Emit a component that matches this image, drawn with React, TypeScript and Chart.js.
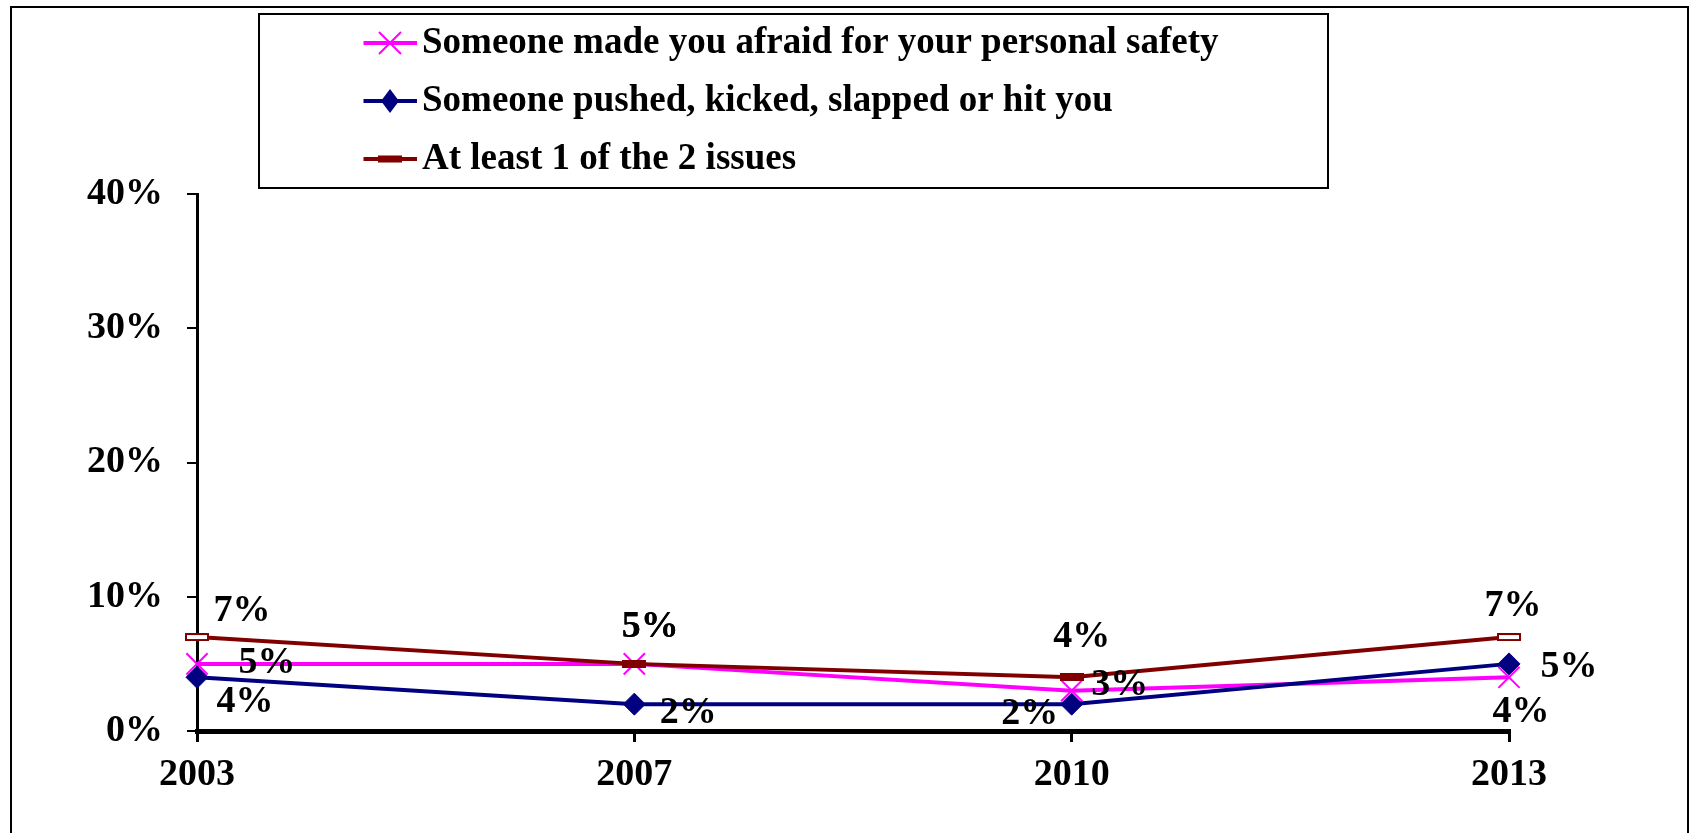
import React, { useEffect, useRef } from 'react';
import { Chart, registerables } from 'chart.js';

Chart.register(...registerables);

const years = ['2003', '2007', '2010', '2013'];
const afraidValues = [5, 5, 3, 4];
const pushedValues = [4, 2, 2, 5];
const atLeastOneValues = [7, 5, 4, 7];
const yTickValues = [0, 10, 20, 30, 40];
const seriesNames = [
  'Someone made you afraid for your personal safety',
  'Someone pushed, kicked, slapped or hit you',
  'At least 1 of the 2 issues',
];

const PINK = '#FF00FF';
const NAVY = '#000080';
const MAROON = '#800000';
const FONT = "'Liberation Serif', 'Times New Roman', serif";

// label placement (style): offsets relative to each point
const labelOffsets = [
  [[70, -1], [16, -37], [48, -6], [12, 35]],
  [[48, 25], [54, 9], [-42, 10], [60, 3]],
  [[45, -26], [16, -37], [10, -40], [4, -31]],
];

function makeCanvas(w: number, h: number) {
  const c = document.createElement('canvas');
  c.width = w;
  c.height = h;
  return c;
}

function legendIcon(kind: 'x' | 'diamond' | 'bar', color: string) {
  const W = 67, H = 28;
  const c = makeCanvas(W, H);
  const ctx = c.getContext('2d')!;
  const cy = H / 2;
  ctx.strokeStyle = color;
  ctx.lineWidth = 4;
  ctx.beginPath();
  ctx.moveTo(13.5, cy);
  ctx.lineTo(67, cy);
  ctx.stroke();
  const mx = 40;
  if (kind === 'x') {
    ctx.lineWidth = 2;
    ctx.beginPath();
    ctx.moveTo(mx - 11, cy - 11);
    ctx.lineTo(mx + 11, cy + 11);
    ctx.moveTo(mx + 11, cy - 11);
    ctx.lineTo(mx - 11, cy + 11);
    ctx.stroke();
  } else if (kind === 'diamond') {
    ctx.fillStyle = color;
    ctx.beginPath();
    ctx.moveTo(mx - 9, cy);
    ctx.lineTo(mx, cy - 12);
    ctx.lineTo(mx + 9, cy);
    ctx.lineTo(mx, cy + 12);
    ctx.closePath();
    ctx.fill();
  } else {
    ctx.fillStyle = color;
    ctx.fillRect(mx - 12, cy - 3.5, 24, 7);
  }
  return c;
}

function dashMarker(hollow: boolean) {
  const c = makeCanvas(24, 8);
  const ctx = c.getContext('2d')!;
  ctx.fillStyle = hollow ? '#fff' : MAROON;
  ctx.fillRect(1, 1, 22, 6);
  ctx.strokeStyle = MAROON;
  ctx.lineWidth = 2;
  ctx.strokeRect(1, 1, 22, 6);
  return c;
}

const framePlugin = {
  id: 'frameAndLegendBox',
  beforeDraw(chart: any) {
    const ctx = chart.ctx;
    ctx.save();
    ctx.strokeStyle = '#000';
    ctx.lineWidth = 2;
    ctx.strokeRect(11, 7, 1677, 900);
    ctx.restore();
    const lg = chart.legend;
    if (lg) {
      lg.left = 342.5;
      lg.top = 3.5;
      lg.right = 1320;
      lg.bottom = 200;
      lg.width = lg.right - lg.left;
      lg.height = lg.bottom - lg.top;
    }
  },
  afterDraw(chart: any) {
    const ctx = chart.ctx;
    ctx.save();
    ctx.strokeStyle = '#000';
    ctx.lineWidth = 2;
    ctx.strokeRect(259, 14, 1069, 174);
    ctx.restore();
  },
};

const pointLabelsPlugin = {
  id: 'pointLabels',
  afterDatasetsDraw(chart: any, _args: any, opts: any) {
    const ctx = chart.ctx;
    ctx.save();
    ctx.font = `bold 38px ${FONT}`;
    ctx.fillStyle = '#000';
    ctx.textAlign = 'center';
    ctx.textBaseline = 'middle';
    chart.data.datasets.forEach((ds: any, i: number) => {
      const meta = chart.getDatasetMeta(i);
      const offs = opts.offsets[i];
      meta.data.forEach((pt: any, j: number) => {
        const o = offs[j];
        ctx.fillText(`${ds.data[j]}%`, pt.x + o[0], pt.y + o[1]);
      });
    });
    ctx.restore();
  },
};

export default function App() {
  const ref = useRef<HTMLCanvasElement | null>(null);

  useEffect(() => {
    if (!ref.current) return;
    const icons = [legendIcon('x', PINK), legendIcon('diamond', NAVY), legendIcon('bar', MAROON)];
    const colors = [PINK, NAVY, MAROON];
    const hollow = dashMarker(true);
    const solid = dashMarker(false);
    const chart = new Chart(ref.current, {
      type: 'line',
      data: {
        labels: years,
        datasets: [
          {
            label: seriesNames[0],
            data: afraidValues,
            borderColor: PINK,
            backgroundColor: PINK,
            borderWidth: 4,
            pointStyle: 'crossRot',
            pointRadius: 15,
            pointBorderWidth: 2,
            pointBorderColor: PINK,
            tension: 0,
            order: 2,
            clip: false,
          },
          {
            label: seriesNames[1],
            data: pushedValues,
            borderColor: NAVY,
            backgroundColor: NAVY,
            borderWidth: 4,
            pointStyle: 'rectRot',
            pointRadius: 11,
            pointBorderWidth: 1,
            pointBorderColor: NAVY,
            pointBackgroundColor: NAVY,
            tension: 0,
            order: 1,
            clip: false,
          },
          {
            label: seriesNames[2],
            data: atLeastOneValues,
            borderColor: MAROON,
            backgroundColor: MAROON,
            borderWidth: 4,
            pointStyle: [hollow, solid, solid, hollow] as any,
            pointRadius: 6,
            tension: 0,
            order: 0,
            clip: false,
          },
        ] as any,
      },
      options: {
        responsive: false,
        animation: false,
        events: [],
        layout: { padding: { top: 194, right: 180, bottom: 0, left: 0 } },
        plugins: {
          tooltip: { enabled: false },
          legend: {
            display: true,
            position: 'chartArea' as any,
            align: 'start',
            labels: {
              usePointStyle: true,
              pointStyleWidth: 40,
              padding: 21,
              color: '#000',
              font: { family: FONT, size: 37, weight: 'bold' },
              generateLabels: () =>
                seriesNames.map((name, i) => ({
                  text: name,
                  pointStyle: icons[i] as any,
                  fillStyle: colors[i],
                  strokeStyle: colors[i],
                  lineWidth: 0,
                  hidden: false,
                  datasetIndex: i,
                })),
            },
          },
          pointLabels: { offsets: labelOffsets },
        } as any,
        scales: {
          x: {
            type: 'category',
            offset: false,
            afterFit(scale: any) {
              scale.height = 102;
            },
            ticks: {
              color: '#000',
              font: { family: FONT, size: 38, weight: 'bold' },
              padding: 10,
              maxRotation: 0,
              autoSkip: false,
            },
            grid: {
              drawOnChartArea: false,
              tickLength: 11,
              color: '#000',
              lineWidth: 3,
              offset: false,
            },
            border: { display: true, color: '#000', width: 5 },
          },
          y: {
            min: 0,
            max: 40,
            afterFit(scale: any) {
              scale.width = 197;
            },
            afterBuildTicks(scale: any) {
              scale.ticks = yTickValues.map((v) => ({ value: v }));
            },
            ticks: {
              color: '#000',
              font: { family: FONT, size: 38, weight: 'bold' },
              padding: 24,
              callback: (v: any) => `${v}%`,
            },
            grid: {
              drawOnChartArea: false,
              tickLength: 10,
              color: '#000',
              lineWidth: 2,
            },
            border: { display: true, color: '#000', width: 3 },
          },
        } as any,
      },
      plugins: [framePlugin, pointLabelsPlugin],
    });
    return () => chart.destroy();
  }, []);

  return (
    <div style={{ position: 'absolute', left: 0, top: 0, width: 1689, height: 833, background: '#fff' }}>
      <canvas ref={ref} width={1689} height={833} style={{ display: 'block', width: 1689, height: 833 }} />
    </div>
  );
}
